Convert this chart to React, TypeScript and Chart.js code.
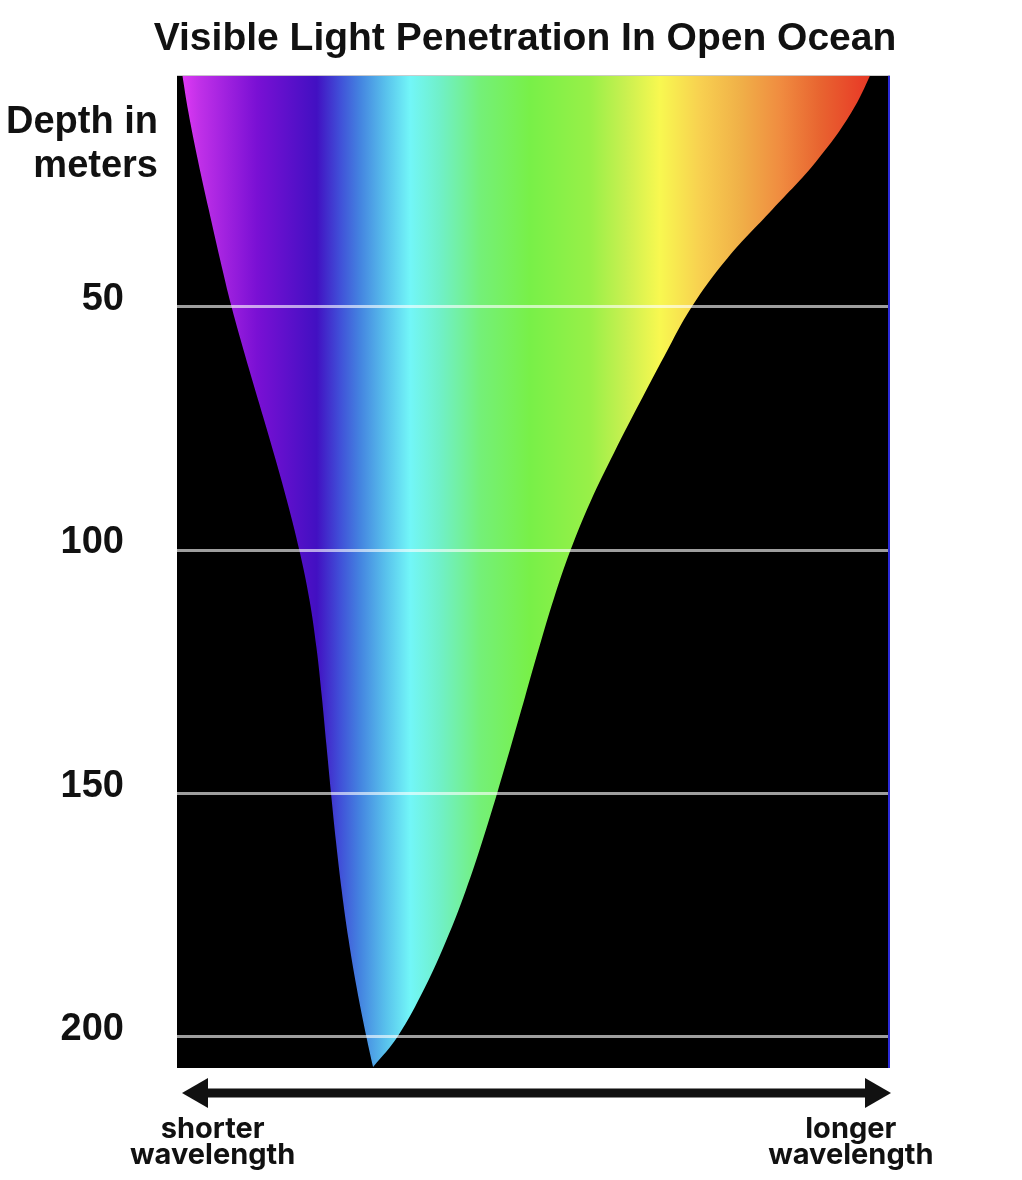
import React, { useEffect, useRef } from 'react';
import { Chart, registerables } from 'chart.js';

Chart.register(...registerables);

// ---- text ----
const chartTitle = 'Visible Light Penetration In Open Ocean';
const depthAxisTitle = ['Depth in', 'meters'];

// ---- depth axis ticks (metres) ----
const depthTicks = [50, 100, 150, 200];

// ---- wavelength axis (relative position 0..100, short -> long) ----
const wavelengthTickPositions = [5.0, 94.5];
const wavelengthTickLabels = [
  ['shorter', 'wavelength'],
  ['longer', 'wavelength'],
];

// ---- light penetration envelope: depth (m) and edge positions ----
const depths = [0, 10, 20, 30, 40, 50, 60, 70, 80, 90, 100, 110, 120, 130, 140, 150, 160, 170, 180, 190, 200, 206.3];
const shorterEdge = [0.5, 1.6, 2.95, 4.45, 6.0, 7.65, 9.55, 11.55, 13.55, 15.45, 17.15, 18.55, 19.55, 20.3, 20.95, 21.6, 22.3, 23.1, 24.05, 25.2, 26.55, 27.5];
const longerEdge = [98.0, 94.6, 89.7, 83.5, 77.2, 72.2, 68.4, 64.8, 61.3, 58.0, 55.2, 52.85, 50.8, 48.85, 46.9, 44.9, 42.8, 40.5, 37.85, 34.75, 30.95, 27.5];

// ---- spectrum colours ----
const spectrumStops = [0, 0.032, 0.112, 0.196, 0.229, 0.257, 0.292, 0.327, 0.369, 0.425, 0.495, 0.579, 0.628, 0.677, 0.734, 0.79, 0.846, 0.902, 0.958, 1];
const spectrumColors = ['#e83cf8', '#c030e8', '#7a10d4', '#4210c2', '#4050d8', '#4484e0', '#58c0ec', '#72f6f8', '#70f0c8', '#74f078', '#78f048', '#98f048', '#c8f050', '#f8f850', '#f8d050', '#f0b048', '#f08c40', '#e86430', '#e84028', '#e03020'];

export default function App() {
  const ref = useRef<HTMLCanvasElement>(null);

  useEffect(() => {
    const canvas = ref.current;
    if (!canvas) return;

    const decorations = {
      id: 'decorations',
      beforeDraw(chart: any) {
        const { ctx, chartArea } = chart;
        ctx.save();
        ctx.fillStyle = '#000';
        ctx.fillRect(chartArea.left, chartArea.top, chartArea.right - chartArea.left, chartArea.bottom - chartArea.top);
        ctx.restore();
      },
      afterDraw(chart: any) {
        const { ctx, chartArea } = chart;
        ctx.save();
        // right edge line
        ctx.fillStyle = '#2b2bd9';
        ctx.fillRect(chartArea.right - 2, chartArea.top, 2, chartArea.bottom - chartArea.top);

        ctx.fillStyle = '#111';
        // title
        ctx.font = 'bold 39px "Liberation Sans", Arial, sans-serif';
        ctx.textAlign = 'center';
        ctx.textBaseline = 'alphabetic';
        ctx.fillText(chartTitle, 525, 50);
        // depth axis title
        ctx.font = 'bold 38px "Liberation Sans", Arial, sans-serif';
        ctx.textAlign = 'right';
        ctx.fillText(depthAxisTitle[0], 158, 133);
        ctx.fillText(depthAxisTitle[1], 158, 177);

        // double arrow
        const ay = 1093;
        ctx.fillRect(200, ay - 4.5, 670, 9);
        ctx.beginPath();
        ctx.moveTo(182, ay);
        ctx.lineTo(208, ay - 15);
        ctx.lineTo(208, ay + 15);
        ctx.closePath();
        ctx.fill();
        ctx.beginPath();
        ctx.moveTo(891, ay);
        ctx.lineTo(865, ay - 15);
        ctx.lineTo(865, ay + 15);
        ctx.closePath();
        ctx.fill();
        ctx.restore();
      },
    };

    const spectrum = (c: any) => {
      const chart = c.chart;
      const area = chart.chartArea;
      if (!area) return 'rgba(0,0,0,0)';
      const g = chart.ctx.createLinearGradient(area.left, 0, area.right, 0);
      spectrumStops.forEach((s, i) => g.addColorStop(s, spectrumColors[i]));
      return g;
    };

    const chart = new Chart(canvas, {
      type: 'line',
      data: {
        datasets: [
          {
            label: 'Longer wavelength limit',
            data: depths.map((d, i) => ({ x: longerEdge[i], y: d })),
            borderWidth: 0,
            pointRadius: 0,
            fill: false,
            tension: 0.4,
          },
          {
            label: 'Shorter wavelength limit',
            data: depths.map((d, i) => ({ x: shorterEdge[i], y: d })),
            borderWidth: 0,
            pointRadius: 0,
            fill: '-1',
            backgroundColor: spectrum,
            tension: 0.4,
          },
        ],
      } as any,
      options: {
        indexAxis: 'y',
        responsive: false,
        devicePixelRatio: 1,
        animation: false,
        events: [],
        layout: { padding: { top: 75, right: 132, left: 0, bottom: 0 } },
        plugins: {
          legend: { display: false },
          tooltip: { enabled: false },
          title: { display: false },
        },
        scales: {
          x: {
            type: 'linear',
            position: 'bottom',
            min: 0,
            max: 100,
            grid: { display: false, drawTicks: false },
            border: { display: false },
            afterBuildTicks: (s: any) => {
              s.ticks = wavelengthTickPositions.map((v) => ({ value: v }));
            },
            afterFit: (s: any) => {
              s.height = 112;
            },
            ticks: {
              autoSkip: false,
              maxRotation: 0,
              minRotation: 0,
              padding: 49,
              color: '#111',
              font: { family: 'Inter', size: 29, weight: 'bold', lineHeight: 0.87 },
              callback: (_v: any, i: number) => wavelengthTickLabels[i],
            },
          },
          y: {
            type: 'linear',
            reverse: true,
            min: 2.5,
            max: 206.5,
            afterBuildTicks: (s: any) => {
              s.ticks = depthTicks.map((v) => ({ value: v }));
            },
            afterFit: (s: any) => {
              s.width = 177;
            },
            grid: { color: 'rgba(255,255,255,0.62)', lineWidth: 3, drawTicks: false, z: 1 },
            border: { display: false },
            ticks: {
              padding: 53,
              labelOffset: -7,
              color: '#111',
              font: { family: 'Liberation Sans', size: 38, weight: 'bold' },
            },
          },
        },
      } as any,
      plugins: [decorations],
    });

    return () => chart.destroy();
  }, []);

  return (
    <div style={{ position: 'absolute', left: 0, top: 0, width: 1022, height: 1180, background: '#fff' }}>
      <canvas ref={ref} width={1022} height={1180} style={{ display: 'block', width: 1022, height: 1180 }} />
    </div>
  );
}
